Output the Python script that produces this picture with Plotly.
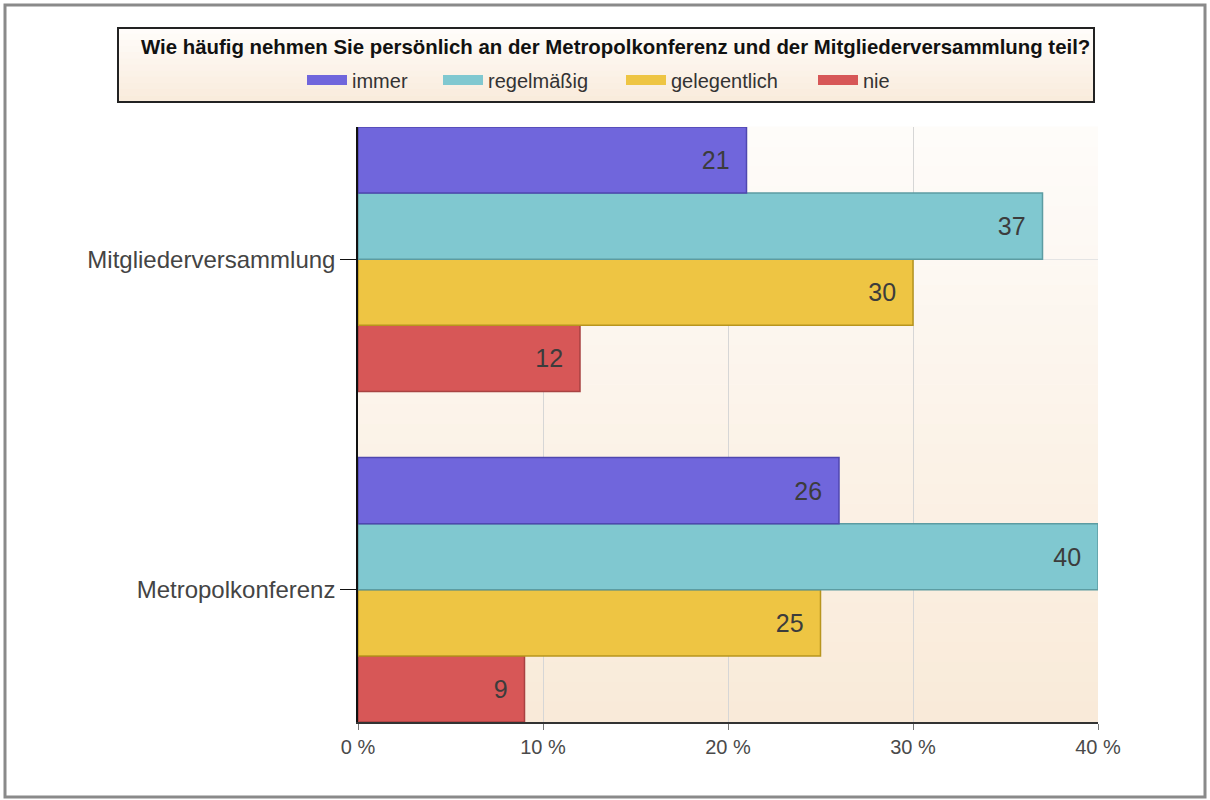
import plotly.graph_objects as go

# data
categories = ["Metropolkonferenz", "Mitgliederversammlung"]
series_names = ["immer", "regelmäßig", "gelegentlich", "nie"]
immer = [26, 21]
regelmaessig = [40, 37]
gelegentlich = [25, 30]
nie = [9, 12]
x_ticks = [0, 10, 20, 30, 40]
title_text = "Wie häufig nehmen Sie persönlich an der Metropolkonferenz und der Mitgliederversammlung teil?"

series = [immer, regelmaessig, gelegentlich, nie]
fills = ["#7066DC", "#80C8D0", "#EEC543", "#D75757"]
edges = ["#4F47B0", "#5C9CA2", "#B8951E", "#A84242"]
legend_left = [307, 443, 626, 818]  # pixel x of each legend swatch

W, H = 1210, 800
L, R, T, B = 358, 112, 127, 78
pw, ph = W - L - R, H - T - B


def px(x):
    return (x - L) / pw


def py(y):
    return (H - B - y) / ph


fig = go.Figure()

# bars: added bottom-up so "immer" ends on top of each group
for name, vals, col, edge in reversed(list(zip(series_names, series, fills, edges))):
    fig.add_trace(go.Bar(
        name=name, y=categories, x=vals, orientation="h",
        marker=dict(color=col, line=dict(color=edge, width=1.5)),
        text=[str(v) for v in vals], texttemplate="%{text}\u00a0\u00a0",
        textposition="inside", insidetextanchor="end", textangle=0,
        textfont=dict(size=25, color="#3c3c3c", family="Liberation Sans, Arial"),
        showlegend=False, hoverinfo="x+name",
    ))

# legend entries, one small legend each so they can be spaced like the original
legend_layouts = {}
for i, (name, col) in enumerate(zip(series_names, fills)):
    key = "legend" if i == 0 else "legend%d" % (i + 1)
    fig.add_trace(go.Scatter(
        name=name, x=[None], y=[None], mode="lines", legend=key,
        line=dict(color=col, width=16), showlegend=True,
    ))
    legend_layouts[key] = dict(
        x=px(legend_left[i] - 5), y=py(80), xanchor="left", yanchor="middle",
        bgcolor="rgba(0,0,0,0)", font=dict(size=20, color="#333333"),
        itemwidth=40, orientation="h",
    )


def gradient_bands(x0, x1, y0, y1, top, bottom, n, xref, yref):
    shapes = []
    t = [int(top[i:i + 2], 16) for i in (1, 3, 5)]
    b = [int(bottom[i:i + 2], 16) for i in (1, 3, 5)]
    for i in range(n):
        f = (i + 0.5) / n
        c = [round(t[k] + (b[k] - t[k]) * f) for k in range(3)]
        ya = y1 - (y1 - y0) * i / n
        yb = y1 - (y1 - y0) * (i + 1) / n
        shapes.append(dict(type="rect", xref=xref, yref=yref, x0=x0, x1=x1,
                           y0=yb, y1=ya + 0.001, layer="below",
                           fillcolor="rgb(%d,%d,%d)" % tuple(c), line_width=0))
    return shapes


shapes = []
# plot area background gradient
shapes += gradient_bands(0, 1, 0, 1, "#FEFCFA", "#F9EAD8", 30, "x domain", "y domain")
# title / legend box
shapes += gradient_bands(px(118), px(1094), py(102), py(28), "#FFFDFB", "#F9EBDB", 12, "paper", "paper")
shapes.append(dict(type="rect", xref="paper", yref="paper", x0=px(118), x1=px(1094),
                   y0=py(102), y1=py(28), line=dict(color="#222222", width=2),
                   fillcolor="rgba(0,0,0,0)", layer="above"))
# outer frame
shapes.append(dict(type="rect", xref="paper", yref="paper", x0=px(5), x1=px(1205),
                   y0=py(797), y1=py(5), line=dict(color="#8a8a8a", width=3),
                   fillcolor="rgba(0,0,0,0)", layer="above"))

fig.update_layout(
    width=W, height=H,
    margin=dict(l=L, r=R, t=T, b=B),
    paper_bgcolor="white",
    plot_bgcolor="rgba(0,0,0,0)",
    barmode="group", bargap=0.2, bargroupgap=0,
    font=dict(family="Liberation Sans, Arial", color="#444444"),
    shapes=shapes,
    annotations=[dict(
        text="<b>" + title_text + "</b>", xref="paper", yref="paper",
        x=px(615), y=py(47), xanchor="center", yanchor="middle", showarrow=False,
        font=dict(size=20.4, color="#111111", family="Liberation Sans, Arial"),
    )],
    xaxis=dict(
        range=[0, 40], tickvals=x_ticks, ticktext=["%d %%" % v for v in x_ticks],
        showgrid=True, gridcolor="#d6d6d6", gridwidth=1, zeroline=False,
        showline=True, linecolor="#333333", linewidth=2,
        ticks="outside", ticklen=6, tickcolor="#777777",
        tickfont=dict(size=20, color="#4a4a4a"),
    ),
    yaxis=dict(
        type="category", categoryorder="array", categoryarray=categories,
        range=[-0.4, 1.4], showgrid=True, gridcolor="#e4e4e4",
        showline=True, linecolor="#111111", linewidth=1.5,
        ticks="outside", ticklen=16, tickcolor="#111111",
        tickfont=dict(size=24, color="#444444"),
    ),
    **legend_layouts,
)

fig.write_html("out.html", config={"displayModeBar": False},
               post_script="document.body.style.margin='0';")
